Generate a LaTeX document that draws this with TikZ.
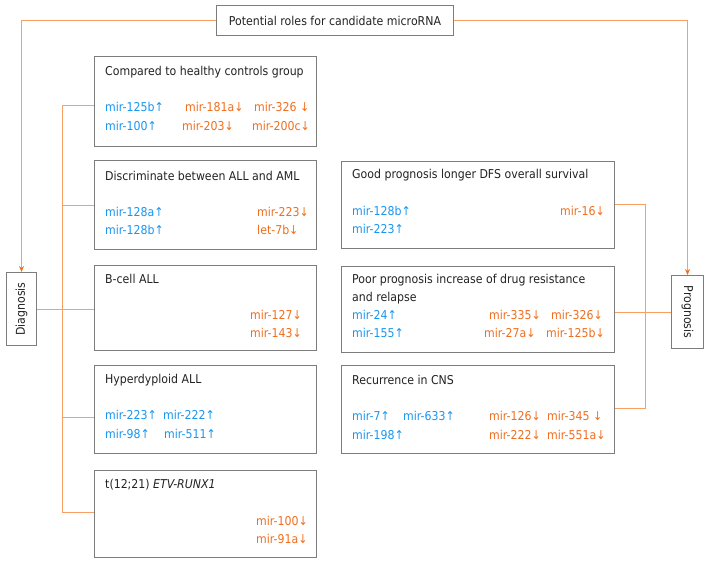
\documentclass[tikz,border=0pt]{standalone}
\usepackage{fontspec}
\setmainfont{DejaVu Sans Condensed}
\usetikzlibrary{arrows.meta}
\definecolor{mblue}{RGB}{25,150,240}
\definecolor{morange}{RGB}{240,110,30}
\definecolor{lorange}{RGB}{248,160,100}
\definecolor{bgray}{RGB}{125,125,125}
\definecolor{tblack}{RGB}{35,35,35}
\tikzset{
  box/.style={draw=bgray, line width=1pt, fill=white, inner sep=0pt, anchor=north west},
  conn/.style={draw=lorange, line width=0.9pt},
  tipped/.style={conn, -{Stealth[length=6pt,width=5pt,color=morange]}},
  txt/.style={font=\fontsize{12.2}{14}\selectfont, text=tblack, inner sep=0pt},
  up/.style={txt, text=mblue, anchor=mid west},
  dn/.style={txt, text=morange, anchor=mid west},
  dne/.style={txt, text=morange, anchor=mid east},
  ttl/.style={txt, anchor=mid west},
}
\begin{document}
\begin{tikzpicture}[x=1pt,y=-1pt]
\useasboundingbox (0,0) rectangle (708,563);
% top
\node[box, minimum width=237pt, minimum height=30pt] (top) at (216,5) {};
\node[txt] (toptxt) at (top.center) {Potential roles for candidate microRNA};
% diagnosis / prognosis
\node[box, minimum width=30pt, minimum height=73pt] (diag) at (6,272) {};
\node[txt, rotate=90] (diagtxt) at (diag.center) {Diagnosis};
\node[box, minimum width=32pt, minimum height=73pt] (prog) at (671,275) {};
\node[txt, rotate=-90] (progtxt) at (prog.center) {Prognosis};
\draw[tipped] (top.west) -| (diag.north);
\draw[tipped] (top.east) -| (prog.north);

% left boxes
\node[box, minimum width=222pt, minimum height=90pt] (b1) at (94,56) {};
\node[box, minimum width=222pt, minimum height=89pt] (b2) at (94,160) {};
\node[box, minimum width=222pt, minimum height=85pt] (b3) at (94,265) {};
\node[box, minimum width=222pt, minimum height=88pt] (b4) at (94,365) {};
\node[box, minimum width=222pt, minimum height=87pt] (b5) at (94,470) {};

% right boxes
\node[box, minimum width=273pt, minimum height=87pt] (r1) at (341,161) {};
\node[box, minimum width=273pt, minimum height=86pt] (r2) at (341,266) {};
\node[box, minimum width=273pt, minimum height=88pt] (r3) at (341,365) {};

% left tree
\coordinate (j1) at (62,105);
\coordinate (j2) at (62,205);
\coordinate (j4) at (62,417);
\coordinate (j5) at (62,512);
\draw[conn] (j1) -- (j1 -| b1.west);
\draw[conn] (j2) -- (j2 -| b2.west);
\draw[conn] (j4) -- (j4 -| b4.west);
\draw[conn] (j5) -- (j5 -| b5.west);
\draw[conn] (j1) -- (j5);
\draw[conn] (diag.east) -- (diag.east -| b3.west);

% right tree
\coordinate (k1) at (645,204);
\coordinate (k3) at (645,408);
\draw[conn] (k1 -| r1.east) -- (k1) -- (k3) -- (k3 -| r3.east);
\draw[conn] (r2.east |- prog.west) -- (prog.west);

% box 1
\node[ttl] (t1) at (105,73) {Compared to healthy controls group};
\node[up] (a11) at (105,109) {mir-125b↑};
\node[dn] (a12) at (185,109) {mir-181a↓};
\node[dn] (a13) at (254,109) {mir-326 ↓};
\node[up] (a14) at (105,128) {mir-100↑};
\node[dn] (a15) at (182,128) {mir-203↓};
\node[dn] (a16) at (252,128) {mir-200c↓};

% box 2
\node[ttl] (t2) at (105,178) {Discriminate between ALL and AML};
\node[up] (a21) at (105,214) {mir-128a↑};
\node[up] (a22) at (105,232) {mir-128b↑};
\node[dn] (a23) at (257,214) {mir-223↓};
\node[dn] (a24) at (257,232) {let-7b↓};

% box 3
\node[ttl] (t3) at (105,281) {B-cell ALL};
\node[dne] (a31) at (302,317) {mir-127↓};
\node[dne] (a32) at (302,335) {mir-143↓};

% box 4
\node[ttl] (t4) at (105,381) {Hyperdyploid ALL};
\node[up] (a41) at (105,417) {mir-223↑};
\node[up] (a42) at (163,417) {mir-222↑};
\node[up] (a43) at (105,436) {mir-98↑};
\node[up] (a44) at (164,436) {mir-511↑};

% box 5
\node[ttl] (t5) at (105,486) {t(12;21) \textit{ETV-RUNX1}};
\node[dn] (a51) at (256,523) {mir-100↓};
\node[dn] (a52) at (256,541) {mir-91a↓};

% right box 1
\node[ttl] (u1) at (352,176) {Good prognosis longer DFS overall survival};
\node[up] (c11) at (352,213) {mir-128b↑};
\node[up] (c12) at (352,231) {mir-223↑};
\node[dne] (c13) at (605,213) {mir-16↓};

% right box 2
\node[ttl] (u2) at (352,281) {Poor prognosis increase of drug resistance};
\node[ttl] (u2b) at (352,299) {and relapse};
\node[up] (c21) at (352,317) {mir-24↑};
\node[up] (c22) at (352,335) {mir-155↑};
\node[dn] (c23) at (489,317) {mir-335↓};
\node[dn] (c24) at (551,317) {mir-326↓};
\node[dn] (c25) at (484,335) {mir-27a↓};
\node[dn] (c26) at (546,335) {mir-125b↓};

% right box 3
\node[ttl] (u3) at (352,382) {Recurrence in CNS};
\node[up] (c31) at (352,418) {mir-7↑};
\node[up] (c32) at (403,418) {mir-633↑};
\node[up] (c33) at (352,437) {mir-198↑};
\node[dn] (c34) at (489,418) {mir-126↓};
\node[dn] (c35) at (547,418) {mir-345 ↓};
\node[dn] (c36) at (489,437) {mir-222↓};
\node[dn] (c37) at (547,437) {mir-551a↓};
\end{tikzpicture}
\end{document}
